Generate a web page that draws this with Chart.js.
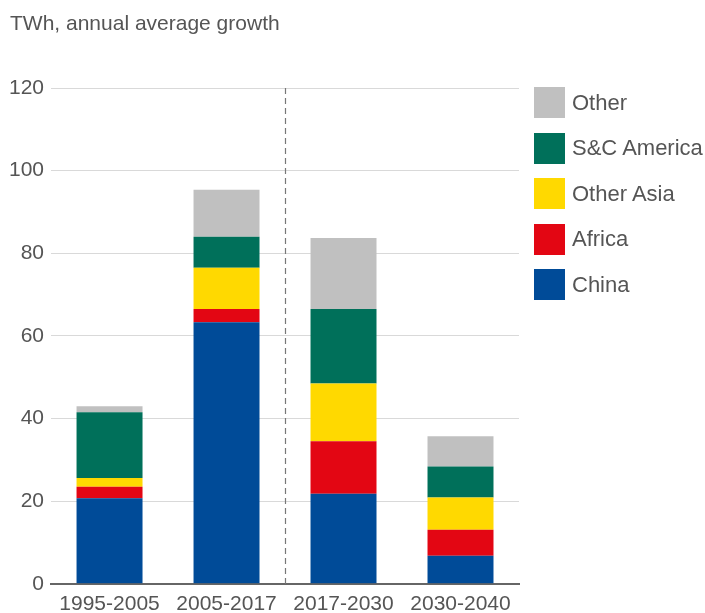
<!DOCTYPE html>
<html>
<head>
<meta charset="utf-8">
<script src="https://cdn.jsdelivr.net/npm/chart.js@4"></script>
<style>
    html, body { margin: 0; padding: 0; background: #fff; overflow: hidden; }
    #wrap { position: relative; width: 705px; height: 625px; }
    #title { position: absolute; left: 10px; top: 11px; line-height: 24px; font-family: "Liberation Sans", Arial, sans-serif; font-size: 21px; color: #555; }
    #legend { position: absolute; left: 534px; top: 87px; font-family: "Liberation Sans", Arial, sans-serif; font-size: 22px; color: #555; }
    #legend .item { display: flex; align-items: center; height: 31px; margin-bottom: 14.5px; }
    #legend .box { width: 31px; height: 31px; margin-right: 7px; }
</style>
</head>
<body>
<div id="wrap">
    <canvas id="growthChart"></canvas>
    <div id="title">TWh, annual average growth</div>
    <div id="legend"></div>
</div>
<script>
//data
var periods = ["1995-2005", "2005-2017", "2017-2030", "2030-2040"];
var china = [20.7, 63.3, 21.8, 6.8];
var africa = [2.8, 3.2, 12.7, 6.3];
var otherAsia = [2.1, 10.0, 14.0, 7.8];
var scAmerica = [15.9, 7.5, 18.0, 7.5];
var other = [1.5, 11.4, 17.2, 7.3];
var yTicks = [0, 20, 40, 60, 80, 100, 120];

//colours
var seriesColors = {
    china: "#004b98",
    africa: "#e30613",
    otherAsia: "#ffd900",
    scAmerica: "#00705a",
    other: "#c0c0c0"
};

var fontFamily = '"Liberation Sans", Arial, sans-serif';
var textColor = "#555";

// dashed divider between history and outlook
var dividerPlugin = {
    id: "divider",
    afterDatasetsDraw: function(chart) {
        var x = chart.scales.x;
        var area = chart.chartArea;
        var px = (x.getPixelForValue(1) + x.getPixelForValue(2)) / 2;
        var ctx = chart.ctx;
        ctx.save();
        ctx.strokeStyle = "#777";
        ctx.lineWidth = 1.2;
        ctx.setLineDash([6, 4]);
        ctx.beginPath();
        ctx.moveTo(Math.round(px) + 0.5, area.top);
        ctx.lineTo(Math.round(px) + 0.5, area.bottom);
        ctx.stroke();
        ctx.restore();
    }
};

var datasets = [
    { label: "China", data: china, backgroundColor: seriesColors.china },
    { label: "Africa", data: africa, backgroundColor: seriesColors.africa },
    { label: "Other Asia", data: otherAsia, backgroundColor: seriesColors.otherAsia },
    { label: "S&C America", data: scAmerica, backgroundColor: seriesColors.scAmerica },
    { label: "Other", data: other, backgroundColor: seriesColors.other }
];

var chart = new Chart("growthChart", {
    type: "bar",
    data: { labels: periods, datasets: datasets },
    options: {
        responsive: true,
        maintainAspectRatio: false,
        animation: false,
        datasets: {
            bar: { categoryPercentage: 1, barPercentage: 0.564, borderWidth: 0 }
        },
        layout: { padding: { left: 2, right: 186, top: 88, bottom: 0 } },
        plugins: {
            legend: { display: false },
            tooltip: { enabled: false }
        },
        scales: {
            x: {
                stacked: true,
                grid: { display: false, drawTicks: false },
                border: { display: true, color: "#666", width: 2 },
                ticks: { color: textColor, padding: 8, font: { family: fontFamily, size: 21 } }
            },
            y: {
                stacked: true,
                min: 0,
                max: 120,
                afterBuildTicks: function(axis) {
                    axis.ticks = yTicks.map(v => ({ value: v }));
                },
                grid: { color: "#d9d9d9", lineWidth: 1, drawTicks: false },
                border: { display: false },
                ticks: { color: textColor, padding: 7, font: { family: fontFamily, size: 21 } }
            }
        }
    },
    plugins: [dividerPlugin]
});

//legend, top item is the top of the stack
var legend = document.getElementById("legend");
datasets.slice().reverse().forEach(ds => {
    var item = document.createElement("div");
    item.className = "item";
    var box = document.createElement("div");
    box.className = "box";
    box.style.background = ds.backgroundColor;
    var label = document.createElement("span");
    label.textContent = ds.label;
    item.appendChild(box);
    item.appendChild(label);
    legend.appendChild(item);
});
</script>
</body>
</html>
